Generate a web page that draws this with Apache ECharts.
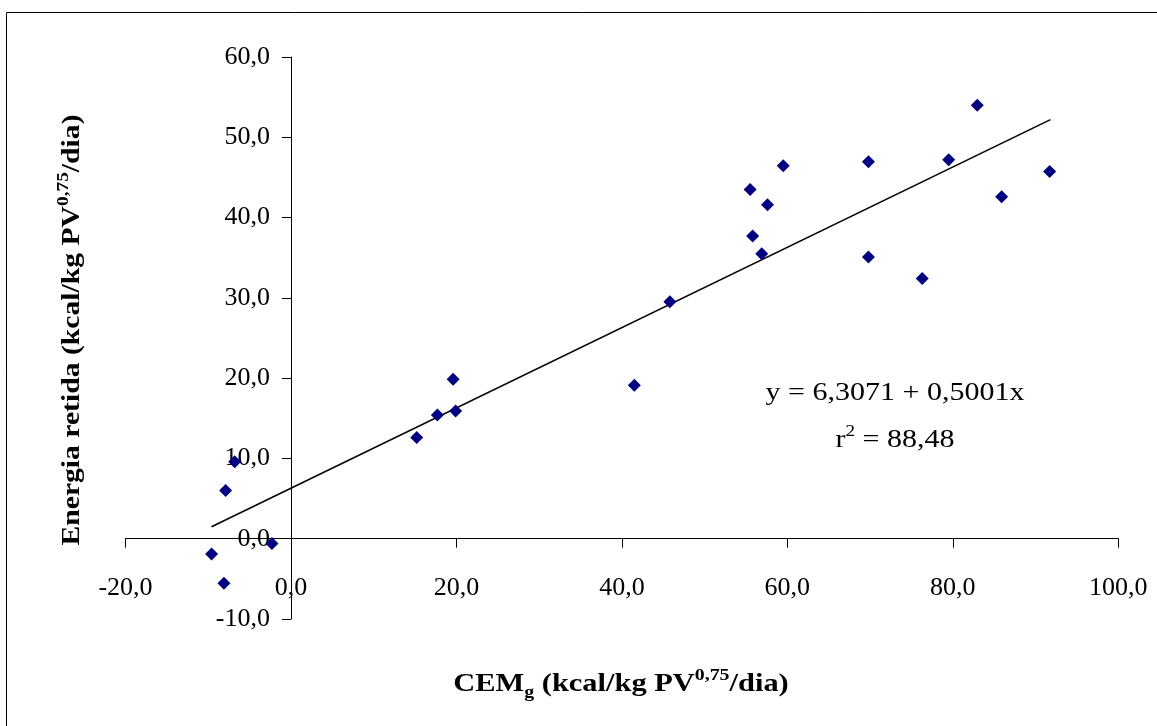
<!DOCTYPE html>
<html>
<head>
<meta charset="utf-8">
<script src="https://cdn.jsdelivr.net/npm/echarts@6/dist/echarts.min.js"></script>
<style>
html,body{margin:0;padding:0;background:#fff;}
#c{width:1157px;height:726px;}
</style>
</head>
<body>
<div id="c"></div>
<script>
// Data
const cemX = [-9.6, -8.1, -7.9, -6.8, -2.3, 15.2, 17.7, 19.9, 19.6, 41.5, 45.8, 55.5, 55.8, 56.9, 57.6, 59.5, 69.8, 69.8, 76.3, 79.5, 82.95, 85.9, 91.7];
const energiaY = [-1.9, -5.55, 6.0, 9.6, -0.6, 12.6, 15.4, 15.9, 19.85, 19.1, 29.5, 43.5, 37.7, 35.5, 41.6, 46.45, 46.95, 35.1, 32.4, 47.2, 54.0, 42.6, 45.75];
const trendX = [-9.6, 91.8];
const trendY = [1.5, 52.2];
const xTicks = [-20, 0, 20, 40, 60, 80, 100];
const yTicks = [-10, 0, 10, 20, 30, 40, 50, 60];
const equationText = 'y = 6,3071 + 0,5001x';
const r2Value = '88,48';

const fmt = v => v.toFixed(1).replace('.', ',');
const FONT = '"Liberation Serif", "Times New Roman", serif';

const W = 1157, H = 726;
const G = {left: 125.5, right: 38.7, top: 57, bottom: 107};
const xMin = xTicks[0], xMax = xTicks[xTicks.length - 1];
const yMin = yTicks[0], yMax = yTicks[yTicks.length - 1];
const gw = W - G.left - G.right, gh = H - G.top - G.bottom;
// offsets that place the axes on the zero lines
const xAxisOffset = -(gh * (0 - yMin) / (yMax - yMin));
const yAxisOffset = -(gw * (0 - xMin) / (xMax - xMin));

function richStyles(size, bold) {
  const w = bold ? 'bold' : 'normal';
  const small = Math.round(size * 0.65);
  return {
    b: {fontFamily: FONT, fontSize: size, fontWeight: w, color: '#000', verticalAlign: 'middle', lineHeight: size + 8},
    sub: {fontFamily: FONT, fontSize: small, fontWeight: w, color: '#000', verticalAlign: 'bottom', lineHeight: small},
    sup: {fontFamily: FONT, fontSize: small, fontWeight: w, color: '#000', verticalAlign: 'top', lineHeight: small}
  };
}

const chart = echarts.init(document.getElementById('c'), null, {renderer: 'canvas'});
const option = {
  backgroundColor: '#ffffff',
  animation: false,
  grid: {left: G.left, right: G.right, top: G.top, bottom: G.bottom, containLabel: false},
  xAxis: {
    type: 'value', position: 'bottom', offset: xAxisOffset,
    min: xMin, max: xMax, interval: 20,
    splitLine: {show: false},
    axisLine: {show: true, onZero: false, lineStyle: {color: '#000', width: 1}},
    axisTick: {show: true, inside: false, length: 9, lineStyle: {color: '#000'}},
    axisLabel: {formatter: fmt, color: '#000', fontFamily: FONT, fontSize: 26, margin: 36}
  },
  yAxis: {
    type: 'value', position: 'left', offset: yAxisOffset,
    min: yMin, max: yMax, interval: 10,
    splitLine: {show: false},
    axisLine: {show: true, onZero: false, lineStyle: {color: '#000', width: 1}},
    axisTick: {show: true, inside: false, length: 9, lineStyle: {color: '#000'}},
    axisLabel: {formatter: fmt, color: '#000', fontFamily: FONT, fontSize: 26, margin: 21}
  },
  series: [
    {
      type: 'line',
      data: trendX.map((x, i) => [x, trendY[i]]),
      showSymbol: false,
      symbol: 'none',
      lineStyle: {color: '#000', width: 1.6},
      z: 2
    },
    {
      type: 'scatter',
      data: cemX.map((x, i) => [x, energiaY[i]]),
      symbol: 'diamond',
      symbolSize: 13,
      itemStyle: {color: '#000080', opacity: 1},
      z: 3
    }
  ],
  graphic: [
    {
      type: 'rect', left: 4, top: 10, silent: true,
      shape: {x: 0, y: 0, width: 1200, height: 800},
      style: {fill: 'none', stroke: '#000', lineWidth: 1}
    },
    {
      type: 'text', x: 895, y: 393, scaleX: 1.2, silent: true,
      style: {text: equationText, fill: '#000', font: '25px ' + FONT, align: 'center', verticalAlign: 'middle'}
    },
    {
      type: 'text', x: 895, y: 440, scaleX: 1.2, silent: true,
      style: {
        text: '{b|r}{sup|2}{b| = ' + r2Value + '}',
        align: 'center', verticalAlign: 'middle',
        rich: richStyles(25, false)
      }
    },
    {
      type: 'text', x: 621, y: 684, scaleX: 1.17, silent: true,
      style: {
        text: '{b|CEM}{sub|g}{b| (kcal/kg PV}{sup|0,75}{b|/dia)}',
        align: 'center', verticalAlign: 'middle',
        rich: richStyles(26, true)
      }
    },
    {
      type: 'text', x: 72, y: 330, rotation: Math.PI / 2, scaleX: 1.14, silent: true,
      style: {
        text: '{b|Energia retida (kcal/kg PV}{sup|0,75}{b|/dia)}',
        align: 'center', verticalAlign: 'middle',
        rich: richStyles(26, true)
      }
    }
  ]
};
chart.setOption(option);
</script>
</body>
</html>
